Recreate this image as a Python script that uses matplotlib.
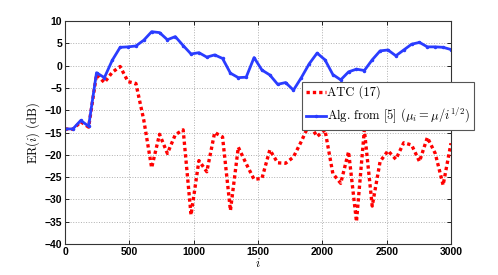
import numpy as np
import matplotlib
matplotlib.use('Agg')
import matplotlib.pyplot as plt

# iteration index grid (50 samples over 0..3000)
iters = np.linspace(0, 3000, 50)

atc_er = [-14.2, -14.3, -12.6, -13.8, -2.0, -3.8, -1.5, -0.2, -3.6, -4.0,
          -12.2, -22.9, -15.4, -19.7, -15.5, -14.4, -33.5, -21.3, -23.8, -15.0,
          -16.0, -32.5, -18.3, -22.0, -25.5, -25.3, -18.9, -21.8, -21.9, -20.5,
          -17.0, -13.1, -15.9, -14.4, -24.2, -26.4, -19.3, -35.0, -14.4, -31.5,
          -21.5, -19.1, -21.0, -17.3, -17.8, -21.5, -16.1, -19.7, -26.8, -17.4]

alg5_er = [-14.2, -14.2, -12.3, -13.6, -1.6, -2.7, 1.2, 4.1, 4.2, 4.4,
           5.7, 7.6, 7.4, 5.8, 6.5, 4.5, 2.6, 2.9, 1.9, 2.4,
           1.6, -1.7, -2.7, -2.6, 1.8, -1.0, -2.1, -4.2, -3.8, -5.5,
           -2.7, 0.4, 2.8, 1.3, -2.0, -3.2, -1.4, -0.8, -1.1, 1.3,
           3.3, 3.5, 2.2, 3.5, 4.8, 5.2, 4.2, 4.2, 4.1, 3.6]

xticks = [0, 500, 1000, 1500, 2000, 2500, 3000]
yticks = [-40, -35, -30, -25, -20, -15, -10, -5, 0, 5, 10]

plt.rcParams['mathtext.fontset'] = 'cm'
serif = 'cmr10'

fig = plt.figure(figsize=(4.98, 2.75), dpi=100)
ax = fig.add_axes([65 / 498, 1 - 244 / 275, 386 / 498, 223 / 275])

ax.plot(iters, atc_er, color='red', linewidth=2.4, linestyle=(0, (1.0, 0.9)),
        label='ATC (17)')
ax.plot(iters, alg5_er, color='#2a3cff', linewidth=2.0, marker='.', markersize=3,
        label=r'Alg. from [5] ($\mu_i = \mu/i^{1/2}$)')

ax.set_xlim(0, 3000)
ax.set_ylim(-40, 10)
ax.set_xticks(xticks)
ax.set_yticks(yticks)
ax.grid(True, linestyle=':', color='#b0b0b0', linewidth=0.7)
ax.tick_params(direction='in', top=True, right=True, length=3, width=0.6, pad=2)
for lab in ax.get_xticklabels() + ax.get_yticklabels():
    lab.set_family('Liberation Sans')
    lab.set_fontsize(7.5)
    lab.set_fontweight('bold')
for sp in ax.spines.values():
    sp.set_linewidth(0.8)
    sp.set_color('#333333')

ax.set_xlabel(r'$i$', fontsize=9, labelpad=0)
ax.set_ylabel(r'ER($i$) (dB)', family=serif, fontsize=9, labelpad=2)

leg = ax.legend(loc='upper left', bbox_to_anchor=(302 / 498, 1 - 82 / 275),
                bbox_transform=fig.transFigure, fancybox=False, framealpha=1,
                edgecolor='#555555', handlelength=1.6, handletextpad=0.1,
                borderpad=0.3, labelspacing=0.5, borderaxespad=0,
                prop={'family': serif, 'size': 9})
leg.get_frame().set_linewidth(0.8)

fig.savefig('out.png', dpi=100)
